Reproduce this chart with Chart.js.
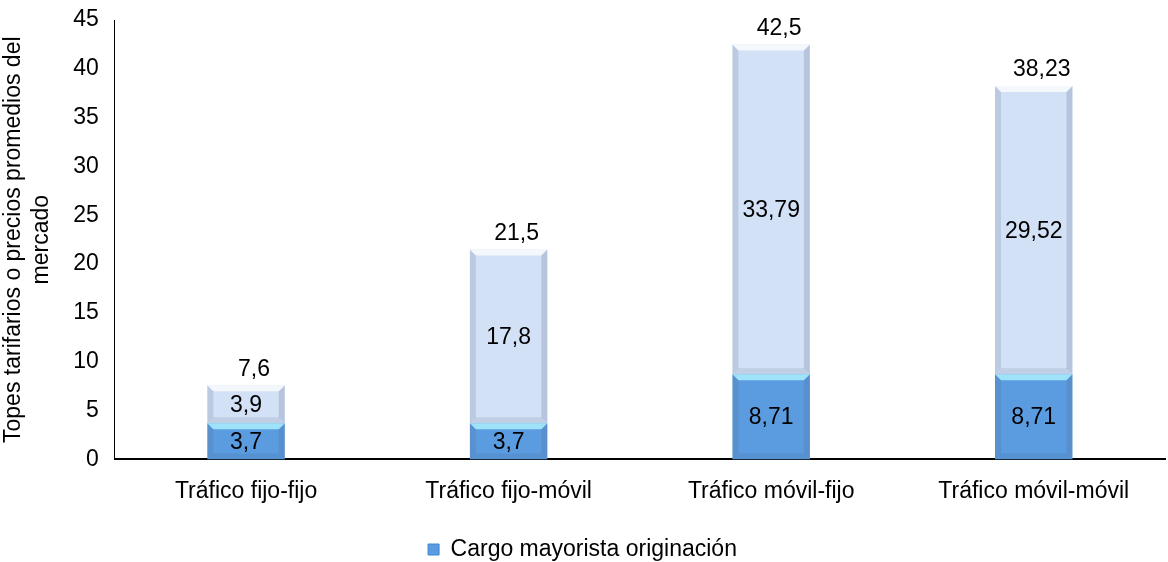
<!DOCTYPE html>
<html><head><meta charset="utf-8">
<script src="https://cdn.jsdelivr.net/npm/chart.js@4.4.1/dist/chart.umd.min.js"></script>
<style>html,body{margin:0;padding:0;background:#fff}#w{width:1168px;height:562px}</style>
</head><body><div id="w"><canvas id="c"></canvas></div>
<script>
const categories = ["Tráfico fijo-fijo", "Tráfico fijo-móvil", "Tráfico móvil-fijo", "Tráfico móvil-móvil"];
const cargoOriginacion = [3.7, 3.7, 8.71, 8.71];
const restoPrecio = [3.9, 17.8, 33.79, 29.52];
const seriesNames = ["Cargo mayorista originación", "Resto"];
const yTicks = [0, 5, 10, 15, 20, 25, 30, 35, 40, 45];
const yTitle = ["Topes tarifarios o precios promedios del", "mercado"];

const FONT = "'Liberation Sans', Arial, sans-serif";
const FS = 23;
const fmt = v => String(v).replace('.', ',');

function blueGrad(ctx) {
  const ch = ctx.chart, a = ch.chartArea;
  if (!a) return '#5b9be0';
  const el = ctx.element;
  if (!el || el.y === undefined) return '#5b9be0';
  const g = ch.ctx.createLinearGradient(0, el.y, 0, el.base);
  g.addColorStop(0, '#8cc6f3');
  g.addColorStop(0.1, '#7ab6ed');
  g.addColorStop(1, '#3f86d5');
  return g;
}
function lightGrad(ctx) {
  const ch = ctx.chart, a = ch.chartArea;
  if (!a) return '#d3e1f6';
  const el = ctx.element;
  if (!el || el.y === undefined) return '#d3e1f6';
  const g = ch.ctx.createLinearGradient(0, el.y, 0, el.base);
  g.addColorStop(0, '#e4edfa');
  g.addColorStop(1, '#cddcf3');
  return g;
}

const bevelPlugin = {
  id: 'bevel',
  afterDatasetsDraw(chart) {
    const c = chart.ctx;
    chart.data.datasets.forEach((ds, di) => {
      const meta = chart.getDatasetMeta(di);
      meta.data.forEach(el => {
        const x0 = el.x - el.width / 2, x1 = el.x + el.width / 2;
        const y0 = Math.min(el.y, el.base), y1 = Math.max(el.y, el.base);
        const b = Math.min(6, (y1 - y0) / 2);
        c.save();
        c.fillStyle = 'rgba(80,100,130,0.18)';
        c.beginPath(); c.moveTo(x0, y0); c.lineTo(x0 + b, y0 + b); c.lineTo(x0 + b, y1 - b); c.lineTo(x0, y1); c.closePath(); c.fill();
        c.fillStyle = 'rgba(80,100,130,0.22)';
        c.beginPath(); c.moveTo(x1, y0); c.lineTo(x1 - b, y0 + b); c.lineTo(x1 - b, y1 - b); c.lineTo(x1, y1); c.closePath(); c.fill();
        c.fillStyle = di === 0 ? 'rgba(175,245,255,0.8)' : 'rgba(255,255,255,0.75)';
        c.beginPath(); c.moveTo(x0, y0); c.lineTo(x1, y0); c.lineTo(x1 - b, y0 + b); c.lineTo(x0 + b, y0 + b); c.closePath(); c.fill();
        c.fillStyle = 'rgba(60,80,110,0.12)';
        c.beginPath(); c.moveTo(x0, y1); c.lineTo(x1, y1); c.lineTo(x1 - b, y1 - b); c.lineTo(x0 + b, y1 - b); c.closePath(); c.fill();
        c.restore();
      });
    });
  }
};

const labelPlugin = {
  id: 'labels',
  afterDatasetsDraw(chart) {
    const c = chart.ctx;
    c.save();
    c.font = FS + 'px ' + FONT;
    c.fillStyle = '#000';
    c.textAlign = 'center';
    c.textBaseline = 'middle';
    chart.data.datasets.forEach((ds, di) => {
      const meta = chart.getDatasetMeta(di);
      meta.data.forEach((el, i) => {
        c.fillText(fmt(ds.data[i]), el.x, (el.y + el.base) / 2 + 1);
      });
    });
    const topMeta = chart.getDatasetMeta(1);
    topMeta.data.forEach((el, i) => {
      const tot = Math.round((cargoOriginacion[i] + restoPrecio[i]) * 100) / 100;
      c.fillText(fmt(tot), el.x + 8, el.y - 16);
    });
    c.restore();
  }
};

const legendShift = {
  id: 'legendShift',
  afterLayout(chart) {
    const lg = chart.legend;
    if (!lg) return;
    const d = 9;
    lg.top += d; lg.bottom += d;
    (lg.legendHitBoxes || []).forEach(h => { h.top += d; });
  }
};

new Chart(document.getElementById('c'), {
  type: 'bar',
  data: {
    labels: categories,
    datasets: [
      { label: seriesNames[0], data: cargoOriginacion, backgroundColor: blueGrad, borderWidth: 0, categoryPercentage: 1, barPercentage: 0.295 },
      { label: seriesNames[1], data: restoPrecio, backgroundColor: lightGrad, borderWidth: 0, categoryPercentage: 1, barPercentage: 0.295 }
    ]
  },
  options: {
    responsive: true, maintainAspectRatio: false, animation: false,
    layout: { padding: { top: 20, right: 3, left: 0, bottom: 0 } },
    plugins: {
      tooltip: { enabled: false },
      legend: {
        position: 'bottom',
        labels: {
          font: { size: FS, family: FONT }, color: '#000',
          boxWidth: 11, boxHeight: 11, padding: 6,
          generateLabels: chart => [{ text: seriesNames[0], fillStyle: '#5b9be0', strokeStyle: '#3f86d5', lineWidth: 1, datasetIndex: 0, fontColor: '#000' }]
        }
      }
    },
    scales: {
      x: {
        stacked: true,
        grid: { display: false, drawTicks: false },
        border: { color: '#000', width: 2 },
        ticks: { font: { size: FS, family: FONT }, color: '#000', padding: 18 }
      },
      y: {
        stacked: true, min: 0, max: 45,
        afterBuildTicks: s => { s.ticks = yTicks.map(v => ({ value: v })); },
        afterFit: s => { s.paddingTop = 0; s.paddingBottom = 0; },
        grid: { display: false, drawTicks: false },
        border: { color: '#000', width: 1 },
        ticks: { font: { size: FS, family: FONT }, color: '#000', padding: 16 },
        title: { display: true, text: yTitle, font: { size: FS, family: FONT }, color: '#000', padding: { top: 0, bottom: 2 } }
      }
    }
  },
  plugins: [bevelPlugin, labelPlugin, legendShift]
});
</script></body></html>
